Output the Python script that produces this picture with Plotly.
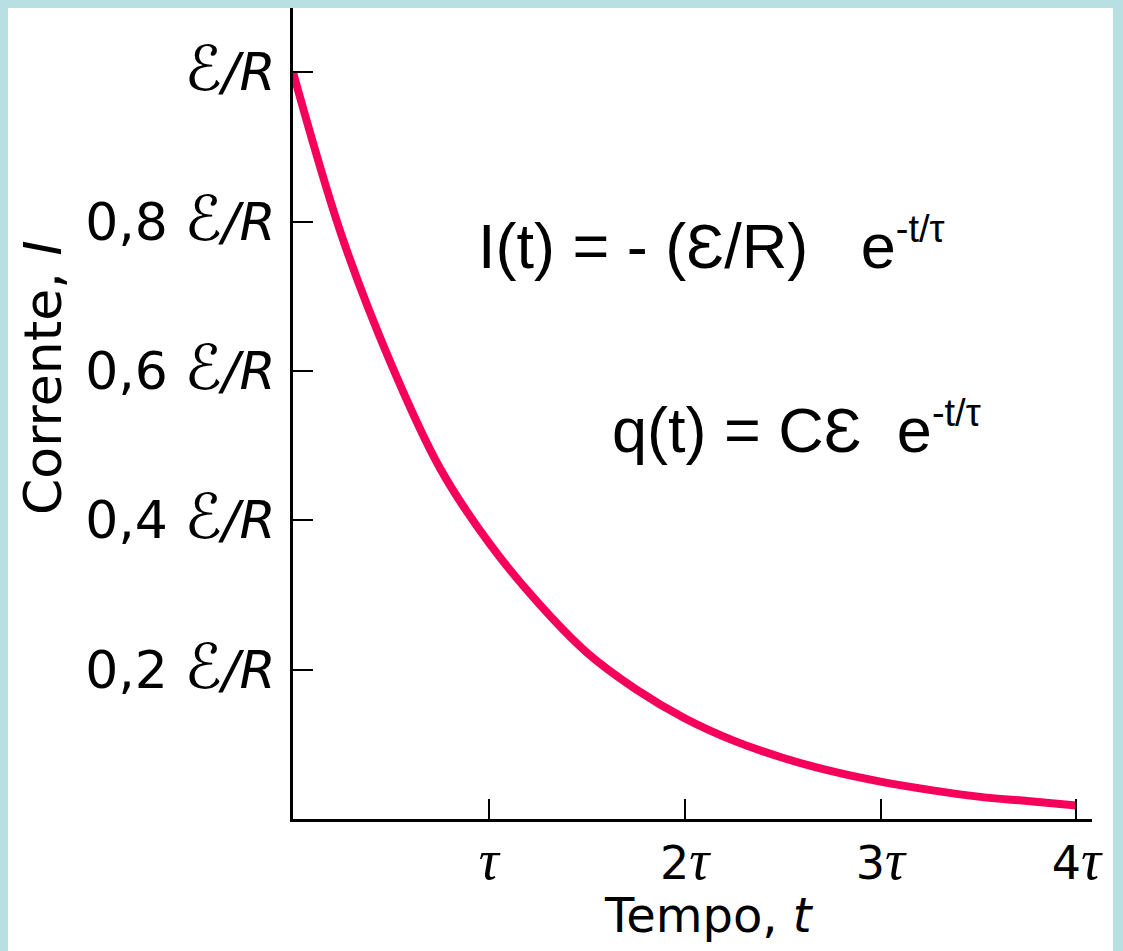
import plotly.graph_objects as go

# Data (time in units of tau, current in units of E/R)
t_values = [0, 0.25, 0.5, 0.75, 1.0, 1.25, 1.5, 1.75, 2.0, 2.25, 2.5, 2.75, 3.0, 3.25, 3.5, 3.75, 4.0]
i_values = [1.0, 0.78, 0.61, 0.47, 0.37, 0.29, 0.223, 0.174, 0.135, 0.105, 0.082, 0.064, 0.05, 0.039, 0.030, 0.024, 0.018]

TAU = '<span style="font-family:Liberation Serif;font-size:56px"><i>τ</i></span>'
SCRIPT_E = '<span style="font-size:62px">ℰ</span>'

x_tickvals = [1, 2, 3, 4]
x_ticktext = [TAU, "2" + TAU, "3" + TAU, "4" + TAU]
y_tickvals = [0.2, 0.4, 0.6, 0.8, 1.0]
y_ticktext = ["0,2 <i>" + SCRIPT_E + "/R</i>", "0,4 <i>" + SCRIPT_E + "/R</i>",
              "0,6 <i>" + SCRIPT_E + "/R</i>", "0,8 <i>" + SCRIPT_E + "/R</i>",
              "<i>" + SCRIPT_E + "/R</i>"]

NB = "\u00a0"
SUP = '<sup><span style="font-size:38px">-t/τ</span></sup>'

fig = go.Figure()
fig.add_trace(go.Scatter(
    x=t_values, y=i_values, mode="lines",
    line=dict(color="#f5005a", width=8, shape="spline"),
    hoverinfo="skip", showlegend=False,
))

y_tick_font = dict(family="DejaVu Sans", size=52, color="black")
x_tick_font = dict(family="DejaVu Sans", size=46, color="black")
eq_font = dict(family="Liberation Sans", size=63, color="black")

fig.update_layout(
    width=1123, height=951,
    margin=dict(l=293, r=31, t=8, b=132),
    paper_bgcolor="#b8e0e2",
    plot_bgcolor="white",
    showlegend=False,
    hovermode=False,
    xaxis=dict(
        range=[0, 4.08], showgrid=False, zeroline=False,
        showline=True, linecolor="black", linewidth=3,
        ticks="inside", ticklen=20, tickwidth=2, tickcolor="black",
        tickvals=x_tickvals, ticktext=x_ticktext, tickfont=x_tick_font,
        ticklabelstandoff=2,
    ),
    yaxis=dict(
        range=[0, 1.086], showgrid=False, zeroline=False,
        showline=True, linecolor="black", linewidth=3,
        ticks="inside", ticklen=20, tickwidth=2, tickcolor="black",
        tickvals=y_tickvals, ticktext=y_ticktext, tickfont=y_tick_font,
        ticklabelstandoff=4,
    ),
    shapes=[dict(
        type="rect", xref="paper", yref="paper", layer="below",
        x0=-0.3567, x1=1.0263, y0=-0.2, y1=1.0,
        fillcolor="white", line=dict(width=0),
    )],
    annotations=[
        dict(text="Tempo, <i>t</i>", xref="paper", yref="paper",
             x=0.5207, y=-0.1184, showarrow=False,
             xanchor="center", yanchor="middle",
             font=dict(family="DejaVu Sans", size=48, color="black")),
        dict(text="Corrente, <i>I</i>", xref="paper", yref="paper",
             x=-0.3129, y=0.545, textangle=-90, showarrow=False,
             xanchor="center", yanchor="middle",
             font=dict(family="DejaVu Sans", size=52, color="black")),
        dict(text="I(t) = - (Ɛ/R)" + NB * 2 + " e" + SUP, xref="paper", yref="paper",
             x=0.229, y=0.7078, xanchor="left", yanchor="middle", showarrow=False,
             font=eq_font),
        dict(text="q(t) = CƐ" + NB + " e" + SUP, xref="paper", yref="paper",
             x=0.397, y=0.482, xanchor="left", yanchor="middle", showarrow=False,
             font=eq_font),
    ],
)

fig.write_html("out.html",
               config={"displayModeBar": False},
               post_script="document.body.style.margin='0';document.body.style.padding='0';")
